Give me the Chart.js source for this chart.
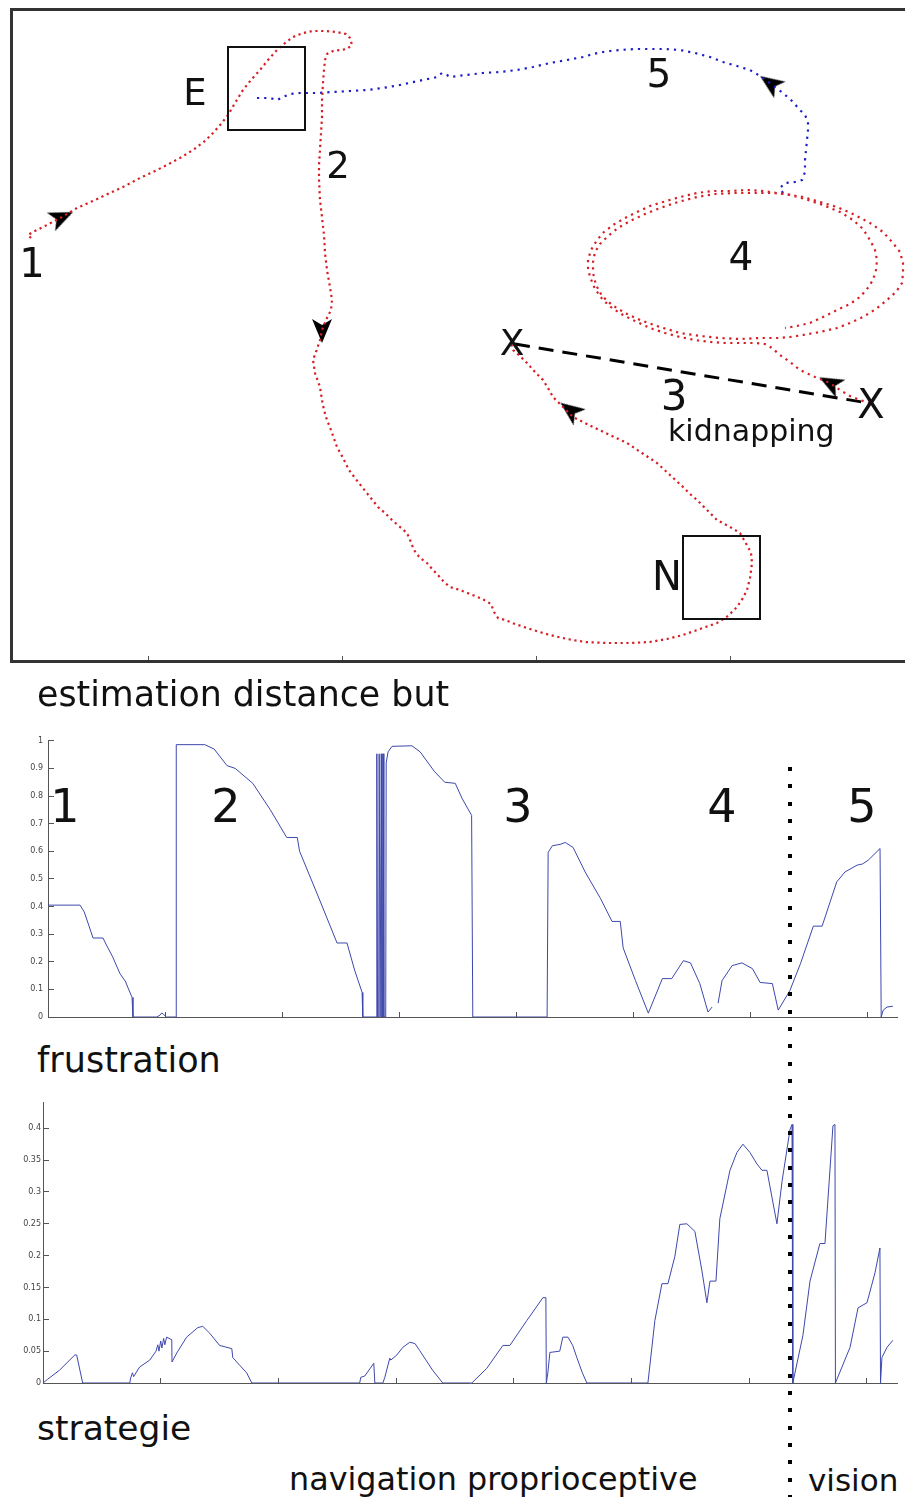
<!DOCTYPE html>
<html><head><meta charset="utf-8">
<script src="https://cdn.jsdelivr.net/npm/chart.js@4.4.1/dist/chart.umd.min.js"></script>
<style>
html,body{margin:0;padding:0;background:#fff;width:905px;height:1497px;overflow:hidden;position:relative;}
.c{position:absolute;left:0;width:905px;}
.t{position:absolute;font-family:"DejaVu Sans",sans-serif;color:#111;white-space:nowrap;}
.box{position:absolute;border:2px solid #111;box-sizing:border-box;}
#vline{position:absolute;left:788px;top:767px;width:4px;height:730px;background:repeating-linear-gradient(to bottom,#000 0 4px,transparent 4px 17.33px);}
</style></head><body>
<div class="c" style="top:0;height:680px;"><canvas id="traj"></canvas></div>
<div class="c" style="top:725px;height:310px;"><canvas id="est"></canvas></div>
<div class="c" style="top:1090px;height:310px;"><canvas id="frus"></canvas></div>
<div id="vline"></div>
<div id="labels"></div>
<script>
// ---------- trajectory (top panel) ----------
const topTicks = [148, 342, 536, 730];
const redPath = [[31,238],[28,235],[33,232],[45,226],[62,217],[77,208],[95,200],[110,193],[125,186],[140,178],[155,171],[167,165],[180,158],[193,150],[205,141],[213,133],[221,124],[228,115],[235,103],[243,90],[251,80],[260,70],[268,60],[277,50],[285,43],[293,37],[303,33],[313,31],[325,31],[337,32],[346,34],[350,38],[352,45],[347,49],[340,50],[333,51],[327,54],[325,60],[324,70],[323,83],[322,100],[322,118],[321,133],[320,150],[319,165],[319,180],[320,200],[322,217],[324,235],[325,253],[327,270],[330,287],[332,300],[331,310],[326,320],[322,330],[320,340],[316,352],[313,360],[315,373],[320,387],[322,400],[324,410],[327,420],[331,430],[337,447],[343,458],[349,470],[355,478],[362,487],[370,497],[378,507],[385,513],[392,520],[400,527],[407,533],[410,540],[414,550],[420,558],[427,563],[433,570],[437,574],[444,582],[450,587],[460,590],[470,594],[480,598],[486,601],[491,604],[494,612],[498,618],[505,620],[515,624],[533,630],[550,635],[567,639],[585,642],[607,643],[630,643],[650,642],[667,639],[683,635],[700,629],[717,623],[728,616],[737,607],[743,598],[747,590],[750,578],[752,563],[751,553],[748,547],[744,540],[740,533],[730,527],[717,520],[707,510],[697,500],[690,494],[683,487],[670,475],[657,463],[642,453],[627,443],[610,435],[593,427],[583,422],[573,417],[563,407],[553,397],[548,388],[543,380],[535,372],[527,363],[520,356],[513,350],[511,343]];
const redLoop = [[870,403],[860,400],[850,396],[840,390],[830,383],[815,377],[800,370],[790,362],[780,355],[772,348],[765,344],[755,343],[743,343],[725,343],[710,342],[695,340],[680,337],[665,333],[650,328],[637,322],[623,315],[612,308],[603,300],[595,289],[590,277],[588,268],[588,260],[591,250],[597,240],[604,232],[613,225],[625,218],[637,212],[650,206],[663,202],[680,197],[697,193],[713,191],[730,191],[747,190],[763,191],[783,194],[803,197],[820,202],[837,207],[853,214],[870,223],[883,232],[893,243],[900,252],[903,263],[903,273],[902,283],[896,292],[887,300],[876,309],[863,317],[850,323],[837,328],[820,332],[803,335],[790,337],[778,338],[760,338],[740,339],[720,338],[700,336],[680,333],[660,327],[640,320],[625,313],[612,305],[602,296],[596,285],[593,273],[593,262],[595,252],[600,244],[608,236],[618,228],[630,221],[645,214],[660,208],[678,202],[697,197],[715,194],[735,193],[755,193],[770,193],[787,194],[805,199],[823,205],[840,212],[853,220],[863,229],[870,240],[875,250],[877,260],[876,270],[873,280],[867,289],[860,297],[850,304],[837,310],[823,317],[810,323],[797,326],[785,328]];
const bluePath = [[783,193],[780,188],[785,183],[795,182],[802,180],[805,172],[805,160],[806,150],[807,140],[808,130],[808,122],[805,115],[800,110],[792,101],[783,93],[776,88],[770,83],[760,76],[750,70],[737,66],[723,62],[710,57],[695,53],[680,50],[665,49],[650,49],[635,49],[620,50],[610,51],[603,52],[593,54],[583,57],[567,60],[550,63],[533,67],[517,70],[500,72],[483,73],[466,75],[450,77],[447,75],[442,73],[437,77],[433,78],[418,81],[400,85],[383,88],[367,90],[350,91],[333,92],[317,93],[300,93],[290,94],[283,97],[277,100],[270,98],[263,98],[257,98]];
const kidnapLine = [[515,344],[862,402]];
const arrowPts = [[62,217],[322,331],[570,410],[830,383],[770,83]];
const arrowRot = [66,180,307,298,305];

// ---------- estimation distance but ----------
const estTicks = [0,0.1,0.2,0.3,0.4,0.5,0.6,0.7,0.8,0.9,1];
const timeTicks = [0,100,200,300,400,500,600,700];
const estT = [0,27.4,31,35,38.5,47,50,55,61.5,66,71.8,72.6,93,95.7,97,98.3,100,101,109.4,109.6,134,142,153,160,175,190,204,213,215,232.5,247,255.5,262,268.4,269,280.5,281,281.6,282.6,283,283.8,284.4,284.8,285.4,286,286.4,287,288.6,289,290.6,294,311,318,330,339,348,354,362,363,426.5,427.4,431,437.6,442,448.7,459,472,482,489,491.5,502,513,525,533,543,549,557,564,567.5,569,572.6,576,584.6,593,602,608.5,619,624,634,643,654,661.5,674,681,691.5,696,701,711,712,713.7,717,722];
const estV = [0.405,0.405,0.38,0.33,0.286,0.286,0.26,0.22,0.157,0.13,0.071,0,0,0.007,0.014,0.012,0.004,0,0,0.986,0.986,0.97,0.91,0.90,0.846,0.75,0.65,0.65,0.60,0.42,0.268,0.268,0.17,0.089,0,0,0.953,0,0,0.953,0,0,0.953,0,0,0.953,0,0,0.92,0.96,0.98,0.982,0.96,0.89,0.85,0.846,0.79,0.73,0,0,0.596,0.62,0.625,0.632,0.614,0.525,0.43,0.346,0.346,0.25,0.132,0.014,0.139,0.139,0.204,0.196,0.121,0.018,0.036,null,0.05,0.132,0.186,0.196,0.175,0.125,0.121,0.025,0.096,0.193,0.329,0.329,0.489,0.525,0.55,0.554,0.568,0.61,0,0.025,0.036,0.039];

// ---------- frustration ----------
const frusTicks = [0,0.05,0.1,0.15,0.2,0.25,0.3,0.35,0.4];
const frusT = [0,4,14,27,28.6,33.7,73.7,74.5,76,77,82,90.7,96,97.5,98.5,100,101,102.5,103.5,105,109.4,109.6,113.6,122,131.5,135.7,141.7,150,160.4,161.2,167,173,177.4,269,270,273.4,281,281.9,288.7,290.4,294.6,295.5,300.6,305.7,311.6,316,320,331,339.6,364.3,377,390.7,396.6,411,424.7,427.2,427.6,428.9,430.6,439,441.6,446,450,453.5,458,462,513.9,519.8,525.8,530.9,536.8,541,547,553.8,559.8,564,566.6,571.7,575,583.6,589.5,594.6,600.6,606.5,610.8,615,623.5,627.8,634.6,636.3,637,645.6,651.6,660,664.3,671.1,672.8,673.2,685.6,692.4,700,706.8,711,711.5,712.7,717,722];
const frusV = [0,0.006,0.02,0.044,0.044,0,0,0.008,0.016,0.01,0.025,0.036,0.05,0.06,0.05,0.066,0.055,0.07,0.06,0.072,0.068,0.033,0.047,0.072,0.087,0.089,0.078,0.059,0.054,0.04,0.028,0.016,0,0,0.009,0.011,0.031,0,0,0.009,0.039,0.036,0.044,0.056,0.064,0.062,0.051,0.02,0,0,0.023,0.059,0.059,0.098,0.134,0.134,0,0.016,0.048,0.05,0.072,0.072,0.059,0.04,0.017,0,0,0.098,0.156,0.156,0.199,0.249,0.25,0.238,0.176,0.126,0.16,0.16,0.258,0.334,0.362,0.375,0.362,0.344,0.334,0.334,0.25,0.316,0.398,0.406,0,0.075,0.16,0.219,0.219,0.404,0.406,0,0.056,0.118,0.126,0.173,0.212,0,0.04,0.056,0.067];

// ---------- text annotations ----------
const textItems = [
  ['1',32,277,40,'c'],['E',195,105,37,'c'],['2',338,178,37,'c'],['5',659,87,39,'c'],['4',741,270,39,'c'],
  ['3',674,411,42,'c'],['kidnapping',668,441,30,'l'],['X',512,355,36,'c'],['X',871,418,40,'c'],['N',667,590,40,'c'],
  ['estimation distance but',37,706,34.8,'l'],
  ['1',65,822,46,'c'],['2',226,822,46,'c'],['3',518,822,46,'c'],['4',722,822,46,'c'],['5',862,822,46,'c'],
  ['frustration',37,1073,35,'l'],['strategie',37,1440,34.5,'l'],
  ['navigation proprioceptive',289,1490,31.8,'l'],['vision',808,1491,31,'l']
];
const boxes = [[228,47,305,130],[683,536,760,619]];

const lab = document.getElementById('labels');
textItems.forEach(([s,x,base,f,al])=>{
  const d=document.createElement('div'); d.className='t'; d.textContent=s;
  d.style.fontSize=f+'px'; d.style.lineHeight=f+'px';
  d.style.top=(base-0.846*f)+'px'; d.style.left=x+'px';
  if(al==='c') d.style.transform='translateX(-50%)';
  lab.appendChild(d);
});
boxes.forEach(([x1,y1,x2,y2])=>{
  const d=document.createElement('div'); d.className='box';
  d.style.left=(x1-1)+'px'; d.style.top=(y1-1)+'px'; d.style.width=(x2-x1+2)+'px'; d.style.height=(y2-y1+2)+'px';
  lab.appendChild(d);
});

// arrowhead glyph used as a point style (pointing up; rotated per point)
const arrowImg = document.createElement('canvas');
arrowImg.width = 26; arrowImg.height = 26;
(function(){
  const g = arrowImg.getContext('2d');
  g.fillStyle = '#000';
  g.beginPath(); g.moveTo(13,1); g.lineTo(23,25); g.lineTo(13,19); g.lineTo(3,25); g.closePath(); g.fill();
})();

const pairs = a => a.map(p=>({x:p[0],y:p[1]}));
const zip = (t,v) => t.map((x,i)=>({x:x,y:v[i]}));
const setTicks = arr => s => { s.ticks = arr.map(v=>({value:v})); };
const common = {responsive:true,maintainAspectRatio:false,animation:false,events:[],devicePixelRatio:1,
  plugins:{legend:{display:false},tooltip:{enabled:false}}};

new Chart(document.getElementById('traj'),{
  type:'scatter',
  data:{datasets:[
    {data:pairs(redPath),showLine:true,borderColor:'rgb(214,30,36)',borderWidth:2.2,borderDash:[2.2,3.6],pointRadius:0,tension:0},
    {data:pairs(redLoop),showLine:true,borderColor:'rgb(214,30,36)',borderWidth:2.2,borderDash:[2.2,4.5],pointRadius:0,tension:0},
    {data:pairs(bluePath),showLine:true,borderColor:'rgb(30,30,200)',borderWidth:2.2,borderDash:[2.2,5],pointRadius:0,tension:0},
    {data:pairs(kidnapLine),showLine:true,borderColor:'#000',borderWidth:3,borderDash:[15,9],pointRadius:0},
    {data:pairs(arrowPts),showLine:false,pointStyle:arrowImg,pointRadius:13,
     pointRotation:ctx=>arrowRot[ctx.dataIndex]}
  ]},
  options:Object.assign({},common,{
    layout:{autoPadding:false,padding:{left:11,top:9,right:0,bottom:19}},
    scales:{
      x:{type:'linear',position:'bottom',min:11,max:905,afterFit:s=>{s.height=0;},afterBuildTicks:setTicks(topTicks),
         ticks:{display:false},grid:{display:true,drawOnChartArea:false,drawTicks:true,tickLength:-5,color:'#555',lineWidth:1},
         border:{display:true,color:'#333',width:3}},
      xt:{type:'linear',position:'top',display:true,min:11,max:905,afterFit:s=>{s.height=0;},
         ticks:{display:false},grid:{display:false},border:{display:true,color:'#333',width:3}},
      y:{type:'linear',position:'left',min:9,max:661,reverse:true,afterFit:s=>{s.width=0;},
         ticks:{display:false},grid:{display:false},border:{display:true,color:'#333',width:3}}
    }
  })
});

function lineChart(id,t,v,yMax,yTicks,yW,pad,labPad){
  new Chart(document.getElementById(id),{
    type:'scatter',
    data:{datasets:[{data:zip(t,v),showLine:true,borderColor:'rgb(62,72,172)',borderWidth:1,pointRadius:0,tension:0}]},
    options:Object.assign({},common,{
      layout:{autoPadding:false,padding:pad},
      scales:{
        x:{type:'linear',min:0,max:725.5,afterFit:s=>{s.height=0;},afterBuildTicks:setTicks(timeTicks),
           ticks:{display:false},grid:{drawOnChartArea:false,tickLength:-5,color:'#555'},border:{color:'#555',width:1}},
        y:{type:'linear',min:0,max:yMax,afterFit:s=>{s.width=yW;},afterBuildTicks:setTicks(yTicks),
           ticks:{font:{size:8,family:'DejaVu Sans'},color:'#444',padding:labPad,callback:val=>String(val)},
           grid:{drawOnChartArea:false,tickLength:-6,color:'#555'},border:{color:'#555',width:1}}
      }
    })
  });
}
lineChart('est',estT,estV,1,estTicks,40,{left:8,top:12,right:8,bottom:18},11);
lineChart('frus',frusT,frusV,0.44,frusTicks,36,{left:7,top:10,right:8,bottom:17},8);
</script>
</body></html>
